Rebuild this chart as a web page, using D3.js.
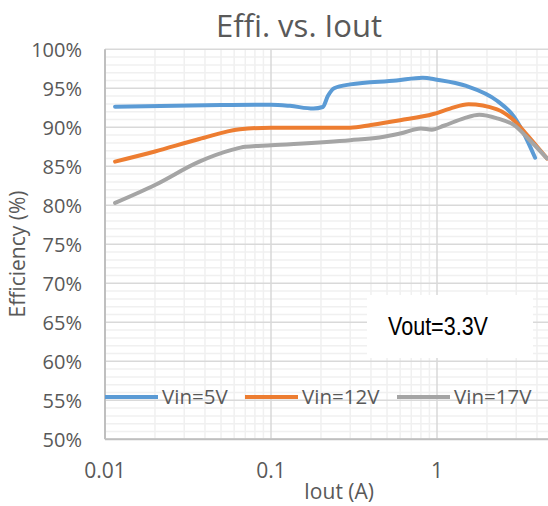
<!DOCTYPE html>
<html>
<head>
<meta charset="utf-8">
<script src="https://cdn.jsdelivr.net/npm/d3@7"></script>
<style>
  body { margin: 0; background: #fff; }
  svg text { font-family: "Open Sans", "DejaVu Sans", sans-serif; }
</style>
</head>
<body>
<div id="chart"></div>
<script>
'use strict';

// Iout in A, efficiency in %
var iout5 = [0.0115, 0.05, 0.1, 0.13, 0.18, 0.205, 0.22, 0.24, 0.3, 0.57, 0.82, 1.0, 1.5, 2.3, 2.9, 3.3, 3.9];
var eff5 = [92.65, 92.85, 92.9, 92.75, 92.4, 92.6, 94.0, 95.0, 95.5, 96.0, 96.35, 96.1, 95.3, 93.4, 91.4, 89.4, 86.1];

var iout12 = [0.0115, 0.02, 0.037, 0.065, 0.1, 0.3, 0.4, 0.6, 0.95, 1.2, 1.55, 2.3, 2.9, 3.4, 4.6];
var eff12 = [85.6, 86.9, 88.5, 89.75, 89.95, 89.95, 90.3, 90.9, 91.7, 92.4, 92.95, 92.3, 90.9, 89.3, 86.0];

var iout17 = [0.0115, 0.02, 0.037, 0.058, 0.07, 0.1, 0.3, 0.45, 0.6, 0.8, 0.93, 1.1, 1.45, 1.8, 2.3, 2.9, 3.6, 4.6];
var eff17 = [80.3, 82.6, 85.6, 87.1, 87.5, 87.7, 88.35, 88.7, 89.2, 89.85, 89.7, 90.2, 91.15, 91.6, 91.15, 90.3, 88.4, 86.0];

var seriesNames = ['Vin=5V', 'Vin=12V', 'Vin=17V'];
var seriesColors = ['#5B9BD5', '#ED7D31', '#A5A5A5'];
var yTicks = [50, 55, 60, 65, 70, 75, 80, 85, 90, 95, 100];
var xTicks = [0.01, 0.1, 1, 10];

var width = 548, height = 506;
var plotLeft = 105, plotRight = 603, plotTop = 49.3, plotBottom = 439.3;

var x = d3.scaleLog().domain([0.01, 10]).range([plotLeft, plotRight]);
var y = d3.scaleLinear().domain([50, 100]).range([plotBottom, plotTop]);

var svg = d3.select('#chart')
    .append('svg')
        .attr('width', width)
        .attr('height', height)

svg.append('defs').append('clipPath')
    .attr('id', 'plotclip')
    .append('rect')
        .attr('x', plotLeft - 2)
        .attr('y', plotTop - 2)
        .attr('width', width - plotLeft + 2)
        .attr('height', plotBottom - plotTop + 4)

var grid = svg.append('g').attr('clip-path', 'url(#plotclip)');

// minor gridlines
var minorY = d3.range(50, 101, 1).filter(d => d % 5 !== 0);
grid.selectAll('line.minory')
    .data(minorY)
    .enter()
    .append('line')
    .attr('x1', plotLeft).attr('x2', plotRight)
    .attr('y1', d => y(d)).attr('y2', d => y(d))
    .style('stroke', '#f0f0f0')
    .style('stroke-width', 1.5)

var minorX = [];
[0.01, 0.1, 1].forEach(function (dec) {
    for (var k = 2; k <= 9; k++) minorX.push(dec * k);
});
grid.selectAll('line.minorx')
    .data(minorX)
    .enter()
    .append('line')
    .attr('x1', d => x(d)).attr('x2', d => x(d))
    .attr('y1', plotTop).attr('y2', plotBottom)
    .style('stroke', '#f0f0f0')
    .style('stroke-width', 1.5)

// major gridlines
grid.selectAll('line.majory')
    .data(yTicks)
    .enter()
    .append('line')
    .attr('x1', plotLeft).attr('x2', plotRight)
    .attr('y1', d => y(d)).attr('y2', d => y(d))
    .style('stroke', '#d9d9d9')
    .style('stroke-width', 1.5)

grid.selectAll('line.majorx')
    .data(xTicks.slice(1))
    .enter()
    .append('line')
    .attr('x1', d => x(d)).attr('x2', d => x(d))
    .attr('y1', plotTop).attr('y2', plotBottom)
    .style('stroke', '#d9d9d9')
    .style('stroke-width', 1.5)

// axis lines
svg.append('line')
    .attr('x1', plotLeft).attr('x2', plotLeft)
    .attr('y1', plotTop).attr('y2', plotBottom)
    .style('stroke', '#bfbfbf').style('stroke-width', 2)
svg.append('line')
    .attr('x1', plotLeft).attr('x2', width)
    .attr('y1', plotBottom).attr('y2', plotBottom)
    .style('stroke', '#bfbfbf').style('stroke-width', 2)

// tick labels
svg.selectAll('text.ytick')
    .data(yTicks)
    .enter()
    .append('text')
    .attr('x', 82)
    .attr('y', d => y(d))
    .attr('dy', '0.36em')
    .attr('text-anchor', 'end')
    .style('font-size', '20px')
    .style('fill', '#595959')
    .text(d => d + '%')

svg.selectAll('text.xtick')
    .data(xTicks.filter(d => x(d) < width))
    .enter()
    .append('text')
    .attr('x', d => x(d))
    .attr('y', 478)
    .attr('text-anchor', 'middle')
    .style('font-size', '21px')
    .style('fill', '#595959')
    .text(d => String(d))

// titles
svg.append('text')
    .attr('x', 299)
    .attr('y', 37)
    .attr('text-anchor', 'middle')
    .style('font-size', '31px')
    .style('fill', '#595959')
    .text('Effi. vs. Iout')

svg.append('text')
    .attr('x', 339)
    .attr('y', 499)
    .attr('text-anchor', 'middle')
    .style('font-size', '21px')
    .style('fill', '#595959')
    .text('Iout (A)')

svg.append('text')
    .attr('transform', 'translate(25,254) rotate(-90)')
    .attr('text-anchor', 'middle')
    .style('font-size', '21px')
    .style('fill', '#595959')
    .text('Efficiency (%)')

// text box
svg.append('rect')
    .attr('x', 367).attr('y', 295)
    .attr('width', 166).attr('height', 63)
    .style('fill', '#ffffff')
svg.append('text')
    .attr('x', 388)
    .attr('y', 335)
    .attr('textLength', 100)
    .attr('lengthAdjust', 'spacingAndGlyphs')
    .style('font-family', '"Liberation Sans Narrow", "Liberation Sans", Arial, sans-serif')
    .style('font-size', '26px')
    .style('fill', '#000')
    .text('Vout=3.3V')

// curves
var series = [
    { name: seriesNames[0], color: seriesColors[0], xs: iout5, ys: eff5 },
    { name: seriesNames[1], color: seriesColors[1], xs: iout12, ys: eff12 },
    { name: seriesNames[2], color: seriesColors[2], xs: iout17, ys: eff17 }
];

var line = d3.line()
    .x(d => x(d[0]))
    .y(d => y(d[1]))
    .curve(d3.curveMonotoneX);

var plot = svg.append('g').attr('clip-path', 'url(#plotclip)');
plot.selectAll('path.series')
    .data(series)
    .enter()
    .append('path')
    .attr('d', d => line(d3.zip(d.xs, d.ys)))
    .style('fill', 'none')
    .style('stroke', d => d.color)
    .style('stroke-width', 4)
    .style('stroke-linejoin', 'round')
    .style('stroke-linecap', 'round')

// legend
var legendX = [105, 245, 397];
var legend = svg.selectAll('g.legend')
    .data(series)
    .enter()
    .append('g')
    .attr('transform', (d, i) => 'translate(' + legendX[i] + ',397)')
legend.append('line')
    .attr('x1', 0).attr('x2', 53)
    .style('stroke', d => d.color)
    .style('stroke-width', 4)
legend.append('text')
    .attr('x', 57)
    .attr('dy', '0.36em')
    .style('font-size', '20.5px')
    .style('fill', '#595959')
    .text(d => d.name)
</script>
</body>
</html>
